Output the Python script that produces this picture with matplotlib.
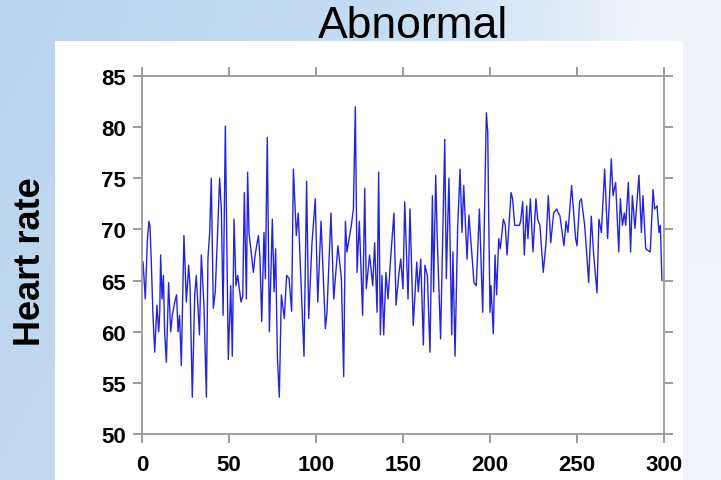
import numpy as np
import matplotlib
matplotlib.use("Agg")
import matplotlib.pyplot as plt
from matplotlib.patches import Rectangle

plt.rcParams['font.family'] = ['Liberation Sans', 'DejaVu Sans']

title = "Abnormal"
y_label = "Heart rate"
x_ticks = [0, 50, 100, 150, 200, 250, 300]
y_ticks = [50, 55, 60, 65, 70, 75, 80, 85]

beat_index = [
    0.6, 1.9, 3.1, 4.0, 4.6, 5.4, 6.3, 7.3, 8.6, 9.6, 10.2, 10.7, 11.5, 12.3, 13.0,
    14.0, 15.3, 16.5, 17.4, 19.2, 19.9, 20.7, 21.6, 22.6, 24.1, 25.5, 26.8, 27.6,
    28.9, 30.3, 31.2, 33.0, 34.1, 35.6, 37.0, 37.9, 38.9, 39.8, 41.0, 42.1, 43.7,
    44.6, 45.6, 46.6, 47.9,
    49.6, 51.0, 51.9, 52.9, 54.0, 55.0, 56.9, 57.9, 58.8, 60.0, 60.7, 61.5, 64.0,
    65.0, 66.9, 67.8, 68.8, 70.1, 70.9, 72.0, 73.2, 74.9, 75.9, 76.8, 77.8, 78.9,
    80.1, 81.8, 83.1, 84.5, 86.0, 87.0, 88.7, 89.8, 93.1, 94.6, 95.8,
    97.7, 99.6, 101.0, 102.9, 105.4, 106.3, 108.6, 110.2, 112.6, 114.6, 115.9,
    116.9, 117.8, 120.3, 121.5, 122.6, 123.6, 124.9, 126.8, 128.0, 128.9, 130.8,
    132.6, 133.7, 135.1, 136.0, 137.0, 137.9, 138.9, 140.2, 141.4, 142.9, 144.8,
    146.0,
    147.7, 148.7, 150.0, 151.0, 152.9, 154.0, 154.8, 155.9, 157.9, 158.8, 160.2,
    161.7, 162.6, 164.0, 165.5, 166.9, 167.6, 168.8, 169.7, 171.6, 174.0, 174.9,
    176.4, 178.0, 178.7, 179.9, 181.4, 182.8, 183.9, 184.9, 186.8, 187.9, 189.1,
    190.8, 192.1, 193.9, 195.8, 197.9,
    198.7, 199.2, 200.0, 200.6, 201.9, 202.9, 203.8, 205.0, 205.9, 207.7, 208.8,
    209.8, 212.1, 213.0, 214.2, 216.9, 217.6, 218.8, 219.7, 221.1, 221.8, 223.2,
    224.7, 226.4, 227.4, 228.7, 230.6, 232.2, 233.5, 234.9, 236.6, 238.3, 240.2,
    242.5, 243.7, 244.8, 246.9,
    249.2, 250.0, 251.5, 252.5, 254.4, 255.4, 256.7, 258.2, 259.6, 261.5, 262.6,
    264.0, 265.9, 267.6, 269.7, 270.7, 272.2, 274.0, 274.9, 276.1, 277.2, 278.0,
    279.5, 280.8, 281.8, 283.3, 285.6, 287.0, 287.9, 289.5, 292.1, 293.7, 294.6,
    296.0, 297.1, 297.9, 298.8,
]
heart_rate = [
    66.8, 63.2, 69.0, 70.8, 70.3, 66.5, 61.6, 58.0, 62.6, 60.0, 61.9, 67.5, 63.2, 65.5, 60.0,
    57.0, 64.8, 60.0, 61.6, 63.2, 63.6, 60.0, 61.6, 56.7, 69.4, 62.9, 66.5, 64.5,
    53.6, 63.6, 65.5, 59.7, 67.5, 62.6, 53.6, 67.2, 69.7, 75.0, 62.3, 63.9, 70.8,
    75.0, 72.0, 61.6, 80.1,
    57.3, 64.5, 57.6, 71.0, 64.5, 65.5, 62.9, 63.5, 73.6, 63.2, 75.6, 69.7, 65.8,
    67.5, 69.4, 67.2, 61.0, 69.7, 65.2, 79.0, 60.0, 71.0, 63.9, 68.1, 57.6, 53.6,
    63.6, 61.3, 65.5, 65.2, 62.0, 75.9, 69.4, 71.6, 57.6, 74.7, 61.3,
    68.7, 73.0, 62.9, 70.8, 60.3, 61.9, 71.6, 63.2, 68.4, 65.2, 55.6,
    70.8, 67.8, 70.4, 72.0, 82.0, 65.8, 70.8, 61.6, 74.0, 64.2, 67.5,
    64.5, 68.7, 61.9, 75.6, 59.7, 65.5, 59.7, 65.8, 63.2, 67.2, 71.6,
    62.6,
    65.8, 67.1, 64.2, 72.7, 63.2, 72.0, 67.1, 60.6, 66.8, 63.9, 67.1,
    58.7, 66.5, 65.5, 58.0, 73.3, 63.9, 75.3, 69.1, 59.3, 78.8, 65.2,
    75.0, 59.7, 67.8, 57.6, 70.1, 75.9, 69.7, 74.3, 67.1, 71.4, 68.7,
    64.8, 64.5, 72.0, 61.9, 81.4,
    79.5, 72.0, 61.9, 64.5, 59.8, 67.5, 63.6, 69.1, 68.1, 71.0, 70.4,
    67.5, 73.6, 73.0, 70.4, 70.4, 70.8, 72.7, 67.5, 72.3, 69.1, 73.0,
    67.8, 73.0, 71.0, 70.4, 65.8, 68.7, 73.3, 68.7, 71.6, 72.0, 71.3,
    68.4, 70.8, 69.7, 74.3,
    69.1, 68.4, 72.7, 73.0, 70.4, 68.1, 64.8, 71.3, 67.5, 63.8, 71.0,
    69.7, 75.9, 69.1, 76.9, 73.3, 74.6, 67.8, 73.0, 70.4, 71.6, 70.4,
    74.6, 67.8, 73.3, 70.1, 75.3, 69.7, 73.3, 68.1, 67.8, 73.9, 72.0,
    72.3, 69.7, 70.4, 65.0,
]

W, H = 721, 481
fig = plt.figure(figsize=(W / 100, H / 100), dpi=100)

# background gradient
bg = fig.add_axes([0, 0, 1, 1])
gx = np.linspace(0, 1, 300)
gy = np.linspace(0, 1, 200)[:, None]
left = np.array([184, 212, 238]) / 255.0
mid = np.array([196, 221, 243]) / 255.0
right = np.array([240, 244, 249]) / 255.0
t = np.clip((gx - 0.55) / 0.35, 0, 1)[None, :, None]
base = np.where(gx[None, :, None] < 0.55,
                left + (mid - left) * (gx[None, :, None] / 0.55),
                mid + (right - mid) * t)
img = np.repeat(base, len(gy), axis=0)
img = img + (1 - img) * 0.12 * gy[:, :, None]
bg.imshow(np.clip(img, 0, 1), aspect='auto', extent=[0, 1, 0, 1], origin='upper')
bg.add_patch(Rectangle((55 / W, 0), (683 - 55) / W, 1 - 42 / H,
                       facecolor='white', edgecolor='none'))
bg.set_xlim(0, 1)
bg.set_ylim(0, 1)
bg.axis('off')

ax = fig.add_axes([142 / W, 1 - 435 / H, (664 - 142) / W, (435 - 77) / H])
ax.plot(beat_index, heart_rate, color='#2424e0', lw=1.0)
ax.set_xlim(0, 300)
ax.set_ylim(50, 85)
ax.set_xticks(x_ticks)
ax.set_yticks(y_ticks)
ax.tick_params(direction='out', length=6.5, width=1.2, color='#8a8a8a',
               top=True, right=True, labelsize=16, pad=5)
ax.tick_params(axis='x', pad=8)
for lab in ax.get_xticklabels() + ax.get_yticklabels():
    lab.set_fontweight('bold')
for s in ax.spines.values():
    s.set_color('#9a9a9a')
    s.set_linewidth(1.3)
ax.set_facecolor('white')

fig.text(413 / W, 1 - 26 / H, title, fontsize=32, ha='center', va='center')
fig.text(30 / W, 1 - 262 / H, y_label, fontsize=26, fontweight='bold',
         rotation=90, ha='center', va='center')

fig.savefig('out.png', dpi=100)
